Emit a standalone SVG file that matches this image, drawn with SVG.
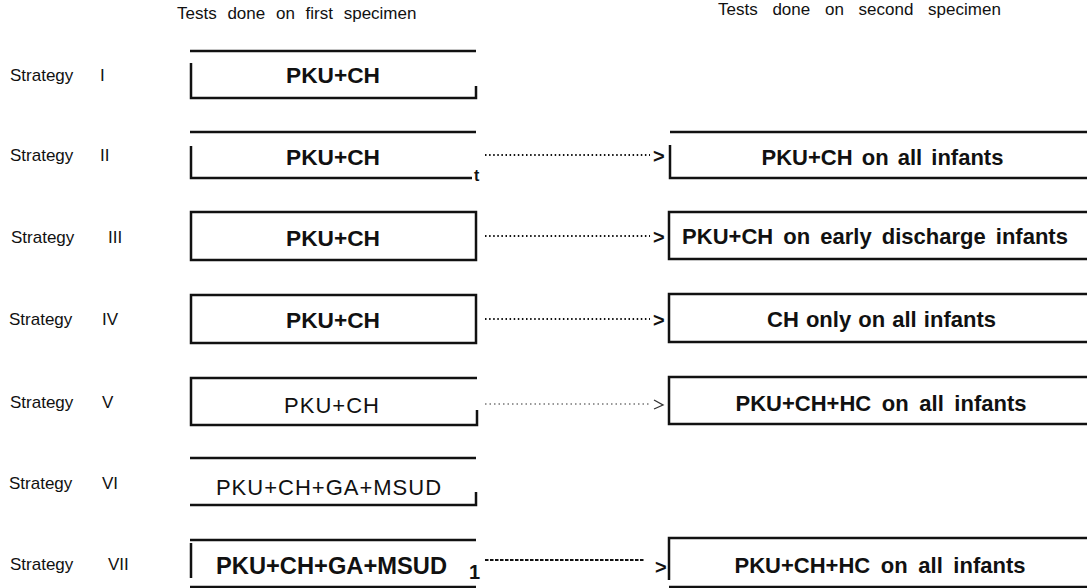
<svg xmlns="http://www.w3.org/2000/svg" width="1087" height="588" viewBox="0 0 1087 588">
<style>
.lbl{font-family:"Liberation Sans",Arial,sans-serif;font-size:17px;fill:#111}
.hd{font-family:"Liberation Sans",Arial,sans-serif;font-size:17px;fill:#111;word-spacing:6px}
.bt{font-family:"Liberation Sans",Arial,sans-serif;font-size:22px;font-weight:bold;fill:#111;text-anchor:middle;word-spacing:3px}
.rt{font-family:"Liberation Sans",Arial,sans-serif;font-size:22px;fill:#111;text-anchor:middle;letter-spacing:1px}
.ln{fill:none;stroke:#111;stroke-width:2.5}
.dot{fill:none;stroke:#111;stroke-width:2;stroke-dasharray:1.5 2.6}
.dotl{fill:none;stroke:#333;stroke-width:1.2;stroke-dasharray:1.5 3}
.dash{fill:none;stroke:#111;stroke-width:2;stroke-dasharray:3.5 1.5}
.ah{font-family:"Liberation Sans",Arial,sans-serif;font-size:20px;font-weight:bold;fill:#111}
</style>
<g id="headers">
<text class="hd" x="177" y="19">Tests done on first specimen</text>
<text class="hd" x="718" y="15" style="word-spacing:10px">Tests done on second specimen</text>
</g>
<g id="labels">
<text class="lbl" x="10" y="81">Strategy<tspan x="100">I</tspan></text>
<text class="lbl" x="10" y="161">Strategy<tspan x="100">II</tspan></text>
<text class="lbl" x="11" y="243">Strategy<tspan x="108">III</tspan></text>
<text class="lbl" x="9" y="325">Strategy<tspan x="102">IV</tspan></text>
<text class="lbl" x="10" y="408">Strategy<tspan x="102">V</tspan></text>
<text class="lbl" x="9" y="489">Strategy<tspan x="102">VI</tspan></text>
<text class="lbl" x="10" y="570">Strategy<tspan x="108">VII</tspan></text>
</g>
<g id="s1-first">
<path class="ln" d="M190 51H476M191 63V98H476V86"/>
<text class="bt" x="333" y="83" style="font-size:22.7px">PKU+CH</text>
</g>
<g id="s2-first">
<path class="ln" d="M190 132H476M191 146V178H472"/>
<text class="bt" x="333" y="165" style="font-size:22.7px">PKU+CH</text>
<text x="474" y="181" style="font-family:'Liberation Sans',Arial,sans-serif;font-size:16px;font-weight:bold;fill:#111">t</text>
</g>
<g id="s3-first">
<rect class="ln" x="191" y="212" width="285" height="48"/>
<text class="bt" x="333" y="246" style="font-size:22.7px">PKU+CH</text>
</g>
<g id="s4-first">
<rect class="ln" x="191" y="295" width="285" height="48"/>
<text class="bt" x="333" y="328" style="font-size:22.7px">PKU+CH</text>
</g>
<g id="s5-first">
<path class="ln" d="M477 378H191V425H477V410"/>
<text class="rt" x="332" y="413">PKU+CH</text>
</g>
<g id="s6-first">
<path class="ln" d="M190 458H476M190 505H476V492"/>
<text class="rt" x="329" y="495">PKU+CH+GA+MSUD</text>
</g>
<g id="s7-first">
<path class="ln" d="M190 540H476M191 543V578M190 587H476"/>
<text class="bt" x="331.5" y="574" style="font-size:23.7px">PKU+CH+GA+MSUD</text>
<text x="469" y="579" style="font-family:'Liberation Sans',Arial,sans-serif;font-size:20px;font-weight:bold;fill:#111">1</text>
</g>
<g id="s2-second">
<path class="ln" d="M670 132H1087M670 145V178H1087"/>
<text class="bt" x="882.5" y="165">PKU+CH on all infants</text>
</g>
<g id="s3-second">
<path class="ln" d="M1087 212H669V259H1087"/>
<text class="bt" x="875" y="244" style="word-spacing:4px">PKU+CH on early discharge infants</text>
</g>
<g id="s4-second">
<path class="ln" d="M1087 294H669V342H1087"/>
<text class="bt" x="881.5" y="327" style="word-spacing:1px">CH only on all infants</text>
</g>
<g id="s5-second">
<path class="ln" d="M1087 377H669V424H1087"/>
<text class="bt" x="881" y="411" style="word-spacing:4.5px">PKU+CH+HC on all infants</text>
</g>
<g id="s7-second">
<path class="ln" d="M1087 538H669V580M669 587H1087"/>
<text class="bt" x="880" y="573" style="word-spacing:4.5px">PKU+CH+HC on all infants</text>
</g>
<g id="connectors">
<line class="dot" x1="485" y1="155" x2="650" y2="155"/>
<text class="ah" x="653" y="163">&gt;</text>
<line class="dot" x1="485" y1="236" x2="650" y2="236"/>
<text class="ah" x="653" y="244">&gt;</text>
<line class="dot" x1="485" y1="319" x2="650" y2="319"/>
<text class="ah" x="653" y="327">&gt;</text>
<line class="dotl" x1="485" y1="404" x2="651" y2="404"/>
<path d="M654 400L663 405L654 409" fill="none" stroke="#333" stroke-width="1.3"/>
<line class="dash" x1="485" y1="560" x2="645" y2="560"/>
<text class="ah" x="655" y="574">&gt;</text>
</g>
</svg>
